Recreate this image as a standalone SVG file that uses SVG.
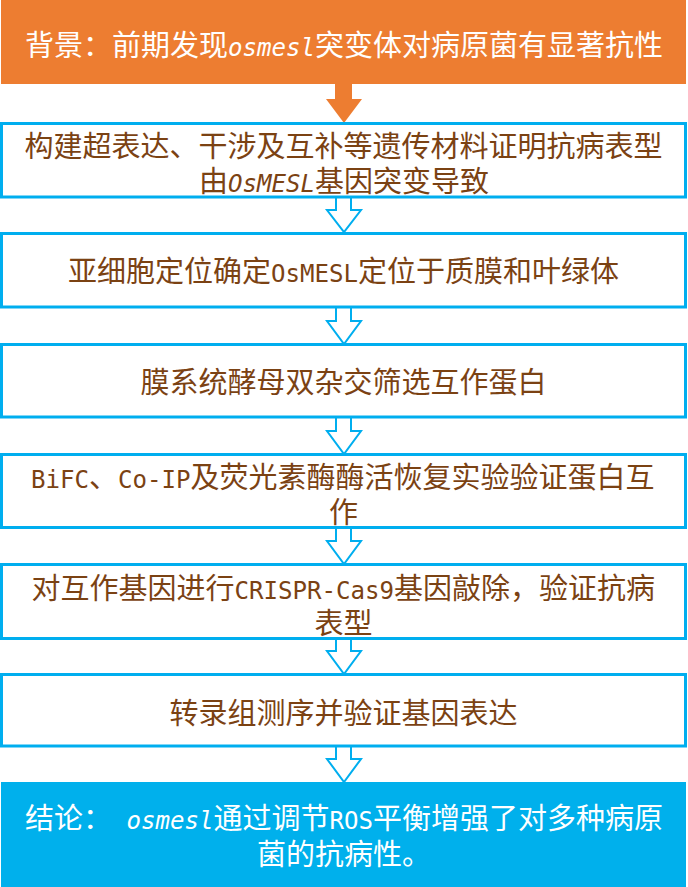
<svg xmlns="http://www.w3.org/2000/svg" width="688" height="887" viewBox="0 0 688 887">
<style>
.box{fill:#ffffff;stroke:#00AEEF;stroke-width:3}
.t{font-family:"Noto Sans CJK SC","Noto Sans",sans-serif;font-size:29px}
.b{fill:#7B4213}
.w{fill:#ffffff}
.lat{font-family:"DejaVu Sans Mono","Liberation Mono",monospace;font-size:24px}
.it{font-style:italic}
.ha{fill:#ffffff;stroke:#00AEEF;stroke-width:2;stroke-linejoin:miter}
</style>
<rect width="688" height="887" fill="#ffffff"/>
<g id="connectors">
<polygon points="335,83 352,83 352,99 362,99 344,123 326,99 335,99" fill="#ED7D31"/>
<polyline class="ha" points="336,198 336,210 327,210 344,232 361,210 351,210 351,198"/>
<polyline class="ha" points="336,308 336,321 327,321 344,344 361,321 351,321 351,308"/>
<polyline class="ha" points="336,418 336,431 327,431 344,454 361,431 351,431 351,418"/>
<polyline class="ha" points="336,529 336,541 327,541 344,564 361,541 351,541 351,529"/>
<polyline class="ha" points="336,640 336,651 327,651 344,674 361,651 351,651 351,640"/>
<polyline class="ha" points="336,747 336,759 327,759 344,782 361,759 351,759 351,747"/>
</g>
<g id="background">
<rect x="1" y="0" width="685" height="84" fill="#ED7D31"/>
<text class="t w" x="25" y="56">背景：前期发现<tspan class="lat it" textLength="87" lengthAdjust="spacingAndGlyphs">osmesl</tspan>突变体对病原菌有显著抗性</text>
</g>
<g id="step1">
<rect class="box" x="1.5" y="123.5" width="684" height="73.5"/>
<text class="t b" x="343.5" y="156.5" text-anchor="middle">构建超表达、干涉及互补等遗传材料证明抗病表型<tspan x="199" dy="35" text-anchor="start">由</tspan><tspan class="lat it" textLength="87" lengthAdjust="spacingAndGlyphs">OsMESL</tspan><tspan>基因突变导致</tspan></text>
</g>
<g id="step2">
<rect class="box" x="1.5" y="233.5" width="684" height="73.5"/>
<text class="t b" x="68" y="282">亚细胞定位确定<tspan class="lat" textLength="87" lengthAdjust="spacingAndGlyphs">OsMESL</tspan>定位于质膜和叶绿体</text>
</g>
<g id="step3">
<rect class="box" x="1.5" y="344.5" width="684" height="72.5"/>
<text class="t b" x="343.5" y="393" text-anchor="middle">膜系统酵母双杂交筛选互作蛋白</text>
</g>
<g id="step4">
<rect class="box" x="1.5" y="454.5" width="684" height="73"/>
<text class="t b" x="31" y="488"><tspan class="lat" textLength="58" lengthAdjust="spacingAndGlyphs">BiFC</tspan>、<tspan class="lat" textLength="72.5" lengthAdjust="spacingAndGlyphs">Co-IP</tspan>及荧光素酶酶活恢复实验验证蛋白互<tspan x="343.5" dy="35" text-anchor="middle">作</tspan></text>
</g>
<g id="step5">
<rect class="box" x="1.5" y="564.5" width="684" height="74"/>
<text class="t b" x="31.5" y="598.5">对互作基因进行<tspan class="lat" textLength="159.5" lengthAdjust="spacingAndGlyphs">CRISPR-Cas9</tspan>基因敲除，验证抗病<tspan x="343.5" dy="35" text-anchor="middle">表型</tspan></text>
</g>
<g id="step6">
<rect class="box" x="1.5" y="674.5" width="684" height="71.5"/>
<text class="t b" x="343.5" y="723.5" text-anchor="middle">转录组测序并验证基因表达</text>
</g>
<g id="conclusion">
<rect x="1" y="782" width="685" height="105" fill="#00B0EC"/>
<text class="t w" x="25" y="829">结论：<tspan class="lat" textLength="14.5" lengthAdjust="spacingAndGlyphs"> </tspan><tspan class="lat it" textLength="87" lengthAdjust="spacingAndGlyphs">osmesl</tspan>通过调节<tspan class="lat" textLength="43.5" lengthAdjust="spacingAndGlyphs">ROS</tspan>平衡增强了对多种病原<tspan x="344" dy="36" text-anchor="middle">菌的抗病性。</tspan></text>
</g>
</svg>
